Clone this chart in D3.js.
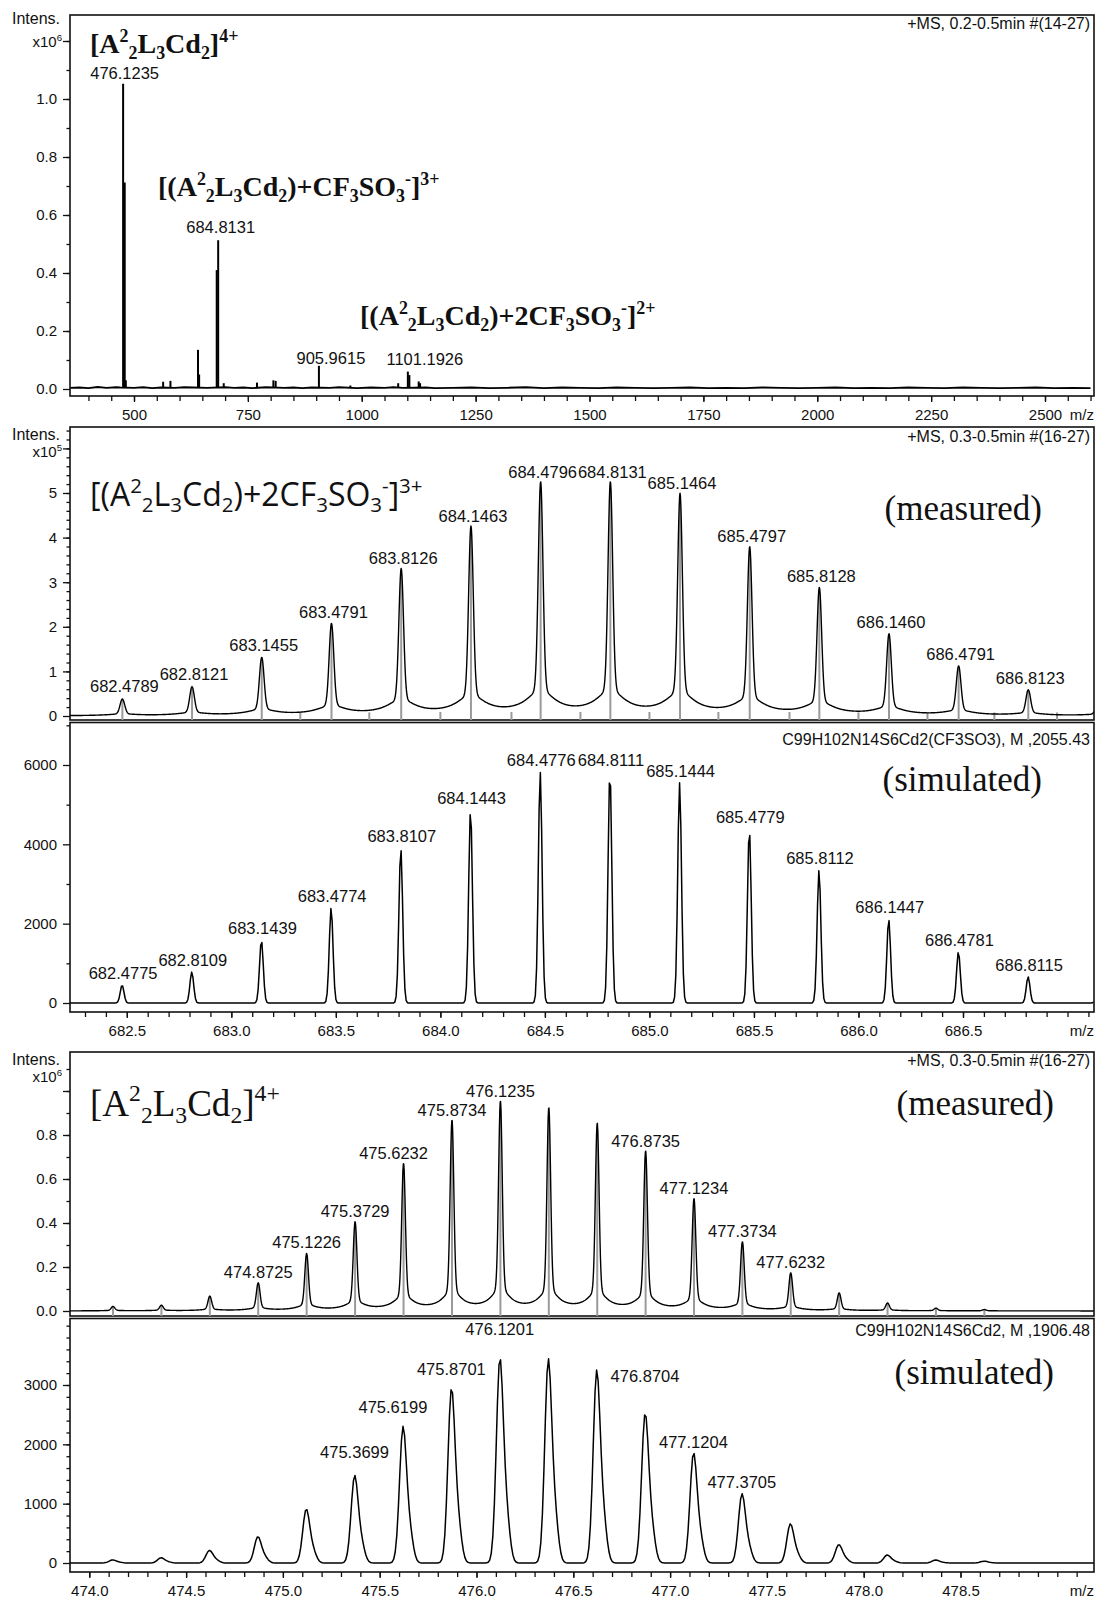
<!DOCTYPE html>
<html>
<head>
<meta charset="utf-8">
<script src="https://cdn.jsdelivr.net/npm/d3@7"></script>
<style>
  html, body { margin: 0; padding: 0; background: #fff; }
  svg { display: block; }
</style>
</head>
<body>
<svg id="chart" width="1098" height="1602"></svg>
<script>
// ===================== data =====================
// Full scan, m/z 360-2600, intensity in units of 10^6
const scanPeakMz  = [476.1, 479.6, 482.0, 564, 580, 640.5, 643.0, 681.6, 684.8, 697, 770, 806, 811, 905.96, 975, 1080, 1101.2, 1104.5, 1125, 1128];
const scanPeakInt = [1.053, 0.712, 0.03, 0.025, 0.028, 0.135, 0.05, 0.41, 0.513, 0.02, 0.022, 0.03, 0.028, 0.08, 0.012, 0.02, 0.06, 0.048, 0.026, 0.02];
const scanNoiseMz  = [360, 380, 400, 420, 440, 460, 470, 500, 520, 540, 560, 590, 610, 630, 660, 700, 720, 740, 760, 790, 830, 850, 870, 890, 930, 950, 990, 1020, 1050, 1070, 1090, 1140, 1160, 1200, 1240, 1280, 1320, 1360, 1400, 1440, 1480, 1520, 1560, 1600, 1640, 1680, 1720, 1760, 1800, 1840, 1880, 1920, 1960, 2000, 2040, 2080, 2120, 2160, 2200, 2240, 2280, 2320, 2360, 2400, 2440, 2480, 2520, 2560, 2600];
const scanNoiseInt = [0.004, 0.005, 0.003, 0.007, 0.004, 0.006, 0.005, 0.004, 0.006, 0.003, 0.005, 0.004, 0.006, 0.005, 0.004, 0.006, 0.004, 0.005, 0.003, 0.006, 0.004, 0.005, 0.003, 0.005, 0.004, 0.006, 0.003, 0.005, 0.004, 0.006, 0.004, 0.005, 0.003, 0.004, 0.005, 0.003, 0.004, 0.006, 0.003, 0.005, 0.004, 0.003, 0.005, 0.004, 0.003, 0.004, 0.005, 0.003, 0.004, 0.003, 0.005, 0.004, 0.003, 0.004, 0.005, 0.003, 0.004, 0.003, 0.005, 0.004, 0.003, 0.005, 0.004, 0.003, 0.004, 0.005, 0.003, 0.004, 0.003];
const scanLabelMz  = [476.1235, 684.8131, 905.9615, 1101.1926];
const scanLabelInt = [1.053, 0.513, 0.08, 0.06];
const scanXTicks = [500, 750, 1000, 1250, 1500, 1750, 2000, 2250, 2500];

// [(A2L3Cd2)+CF3SO3]3+ isotope cluster, measured (x10^5)
const triMz = [682.4789, 682.8121, 683.1455, 683.4791, 683.8126, 684.1463, 684.4796, 684.8131, 685.1464, 685.4797, 685.8128, 686.1460, 686.4791, 686.8123, 687.1455];
const triMeasured = [0.37, 0.64, 1.29, 2.04, 3.26, 4.20, 5.19, 5.19, 4.93, 3.74, 2.84, 1.81, 1.10, 0.57, 0.30];
const triMinorMz  = [683.33, 683.66, 684.00, 684.34, 684.67, 685.00, 685.33, 685.67, 686.00, 686.33, 686.65, 686.95];
const triMinorInt = [0.08, 0.08, 0.09, 0.09, 0.09, 0.09, 0.09, 0.09, 0.08, 0.08, 0.08, 0.08];
// same cluster, simulated for C99H102N14S6Cd2(CF3SO3)
const triSimMz = [682.4775, 682.8109, 683.1439, 683.4774, 683.8107, 684.1443, 684.4776, 684.8111, 685.1444, 685.4779, 685.8112, 686.1447, 686.4781, 686.8115, 687.1449];
const triSimulated = [450, 780, 1580, 2400, 3900, 4870, 5830, 5830, 5550, 4380, 3350, 2110, 1290, 660, 330];
const triXTicks = [682.5, 683.0, 683.5, 684.0, 684.5, 685.0, 685.5, 686.0, 686.5];

// [A2L3Cd2]4+ isotope cluster, measured (x10^6)
const quadMz = [474.1225, 474.3725, 474.6225, 474.8725, 475.1226, 475.3729, 475.6232, 475.8734, 476.1235, 476.3735, 476.6236, 476.8735, 477.1234, 477.3734, 477.6232, 477.8732, 478.1232, 478.3732, 478.6232];
const quadMeasured = [0.02, 0.025, 0.066, 0.125, 0.257, 0.40, 0.664, 0.86, 0.945, 0.915, 0.845, 0.72, 0.505, 0.31, 0.17, 0.08, 0.035, 0.012, 0.006];
const quadMeasuredLabeled = [3, 4, 5, 6, 7, 8, 11, 12, 13, 14];
// same cluster, simulated for C99H102N14S6Cd2
const quadSimMz = [474.1199, 474.3699, 474.6199, 474.8699, 475.1199, 475.3699, 475.6199, 475.8701, 476.1201, 476.3702, 476.6203, 476.8704, 477.1204, 477.3705, 477.6205, 477.8706, 478.1206, 478.3707, 478.6207];
const quadSimulated = [50, 85, 205, 430, 880, 1430, 2230, 2860, 3350, 3330, 3150, 2450, 1800, 1130, 640, 300, 130, 48, 30];
const quadSimLabeled = [5, 6, 7, 8, 11, 12, 13];
const quadXTicks = [474.0, 474.5, 475.0, 475.5, 476.0, 476.5, 477.0, 477.5, 478.0, 478.5];

// ===================== layout =====================
const L = 70, R = 1094;
const NUM_FONT = "'Liberation Sans', Arial, sans-serif";
const SERIF = "'Liberation Serif', 'Times New Roman', serif";
const SANS_BIG = "'Open Sans', 'Noto Sans', sans-serif";
const TICK_PX = 15, LABEL_PX = 16.5, HEAD_PX = 16;

const svg = d3.select("#chart");
svg.append("rect").attr("width", 1098).attr("height", 1602).attr("fill", "#fff");

const xScan = d3.scaleLinear().domain([500, 2500]).range([134, 1045]);
const xTri  = d3.scaleLinear().domain([682.5, 686.5]).range([126.8, 963]);
const xQuad = d3.scaleLinear().domain([474.0, 478.5]).range([89.3, 960.5]);

const panels = {
  scan:   { top: 15,   bottom: 396,  y: d3.scaleLinear().domain([0, 1.0]).range([389, 99]) },
  triM:   { top: 427,  bottom: 720,  y: d3.scaleLinear().domain([0, 5]).range([716, 493]) },
  triS:   { top: 722.5,bottom: 1012, y: d3.scaleLinear().domain([0, 6000]).range([1003, 765]) },
  quadM:  { top: 1052, bottom: 1316, y: d3.scaleLinear().domain([0, 0.8]).range([1311, 1135]) },
  quadS:  { top: 1318.5, bottom: 1572, y: d3.scaleLinear().domain([0, 3000]).range([1563, 1385]) }
};

// ===================== helpers =====================
function frame(p, id) {
  svg.append("clipPath").attr("id", id)
    .append("rect").attr("x", L).attr("y", p.top).attr("width", R - L).attr("height", p.bottom - p.top);
  svg.append("rect").attr("x", L).attr("y", p.top).attr("width", R - L).attr("height", p.bottom - p.top)
    .attr("fill", "none").attr("stroke", "#111").attr("stroke-width", 1.6);
}

function yAxis(p, majors, minors, fmt) {
  const gm = svg.append("g").attr("transform", `translate(${L},0)`);
  gm.call(d3.axisLeft(p.y).tickValues(minors).tickSize(3.5).tickFormat(""));
  gm.select(".domain").remove();
  const g = svg.append("g").attr("transform", `translate(${L},0)`);
  g.call(d3.axisLeft(p.y).tickValues(majors).tickSize(7).tickPadding(6).tickFormat(fmt));
  g.select(".domain").remove();
  g.selectAll("text").attr("font-family", NUM_FONT).attr("font-size", TICK_PX).attr("fill", "#111");
  svg.selectAll(".tick line").attr("stroke", "#111").attr("stroke-width", 1.3);
}

function xAxis(p, x, majors, minorStep, fmt) {
  const lo = x.invert(L), hi = x.invert(R);
  const minors = [];
  for (let k = Math.ceil(lo / minorStep); k * minorStep <= hi; k++) minors.push(+(k * minorStep).toFixed(6));
  const gm = svg.append("g").attr("transform", `translate(0,${p.bottom})`);
  gm.call(d3.axisBottom(x).tickValues(minors).tickSize(5).tickFormat(""));
  gm.select(".domain").remove();
  const g = svg.append("g").attr("transform", `translate(0,${p.bottom})`);
  g.call(d3.axisBottom(x).tickValues(majors).tickSize(6).tickPadding(7).tickFormat(fmt));
  g.select(".domain").remove();
  g.selectAll("text").attr("font-family", NUM_FONT).attr("font-size", TICK_PX).attr("fill", "#111");
  svg.selectAll(".tick line").attr("stroke", "#111").attr("stroke-width", 1.3);
  svg.append("text").attr("x", R).attr("y", p.bottom + 24).attr("text-anchor", "end")
    .attr("font-family", NUM_FONT).attr("font-size", TICK_PX).attr("fill", "#111").text("m/z");
}

function rich(x, y, parts, size, family, weight, anchor) {
  const t = svg.append("text").attr("x", x).attr("y", y)
    .attr("font-family", family).attr("font-size", size)
    .attr("font-weight", weight || "normal").attr("fill", "#111")
    .attr("text-anchor", anchor || "start");
  let shift = 0;
  parts.forEach(([s, k]) => {
    const fs = k === "n" ? size : size * 0.64;
    const target = k === "sup" ? -0.40 * size : k === "sub" ? 0.20 * size : 0;
    t.append("tspan").attr("dy", target - shift).attr("font-size", fs).text(s);
    shift = target;
  });
  return t;
}

function small(x, y, s, anchor, size) {
  return svg.append("text").attr("x", x).attr("y", y).attr("text-anchor", anchor || "middle")
    .attr("font-family", NUM_FONT).attr("font-size", size || LABEL_PX).attr("fill", "#111").text(s);
}

function expLabel(p, exp, dIntens, dExp) {
  small(60, p.top + dIntens, "Intens.", "end", HEAD_PX);
  rich(62, p.top + dExp, [["x10", "n"], [exp, "sup"]], TICK_PX, NUM_FONT, "normal", "end");
}

// measured line shape: narrow core + broad skirt
function measuredProfile(mz, h, lo, hi, step, f, b) {
  const pts = [];
  for (let m = lo; m <= hi + 1e-9; m += step) {
    let v = 0;
    for (let i = 0; i < mz.length; i++) {
      const dx = m - mz[i];
      v += h[i] * (0.9 * Math.exp(-4 * Math.LN2 * dx * dx / (f * f)) + 0.1 / (1 + dx * dx / (b * b)));
    }
    pts.push([m, v]);
  }
  return pts;
}
// simulated line shape: gaussian with an optional shoulder on the high-mass side
function simProfile(mz, h, lo, hi, step, f, sh, shOff) {
  const pts = [];
  for (let m = lo; m <= hi + 1e-9; m += step) {
    let v = 0;
    for (let i = 0; i < mz.length; i++) {
      const dx = m - mz[i], ds = dx - shOff;
      v += h[i] * (Math.exp(-4 * Math.LN2 * dx * dx / (f * f)) + sh * Math.exp(-4 * Math.LN2 * ds * ds / (f * f)));
    }
    pts.push([m, v]);
  }
  return pts;
}

function curve(p, x, pts, clip, width) {
  const line = d3.line().x(d => x(d[0])).y(d => p.y(d[1]));
  svg.append("path").attr("d", line(pts)).attr("clip-path", `url(#${clip})`)
    .attr("fill", "none").attr("stroke", "#000").attr("stroke-width", width).attr("stroke-linejoin", "round");
}

function sticks(p, x, mz, h, clip, color, width, frac) {
  svg.append("g").attr("clip-path", `url(#${clip})`).selectAll("line").data(mz).join("line")
    .attr("x1", d => x(d)).attr("x2", d => x(d))
    .attr("y1", p.bottom).attr("y2", (d, i) => p.y(h[i] * frac))
    .attr("stroke", color).attr("stroke-width", width);
}

function bigWord(x, y, s) {
  svg.append("text").attr("x", x).attr("y", y).attr("text-anchor", "end")
    .attr("font-family", SERIF).attr("font-size", 35).attr("fill", "#111").text(s);
}

// ===================== panel 1: full scan =====================
const P1 = panels.scan;
frame(P1, "c1");
{
  const base = d3.line().x(d => xScan(d[0])).y(d => P1.y(d[1]));
  svg.append("path").attr("d", base(scanNoiseMz.map((m, i) => [m, scanNoiseInt[i]])))
    .attr("clip-path", "url(#c1)").attr("fill", "none").attr("stroke", "#000").attr("stroke-width", 1.9);
  svg.append("g").attr("clip-path", "url(#c1)").selectAll("line").data(scanPeakMz).join("line")
    .attr("x1", d => xScan(d)).attr("x2", d => xScan(d))
    .attr("y1", P1.y(0.004)).attr("y2", (d, i) => P1.y(scanPeakInt[i]))
    .attr("stroke", "#000").attr("stroke-width", 2);
}
yAxis(P1, [0, 0.2, 0.4, 0.6, 0.8, 1.0, 1.2], d3.range(1, 13).map(k => k / 10), v => v > 1.1 ? "" : v.toFixed(1));
expLabel(P1, "6", 9, 32);
xAxis(P1, xScan, scanXTicks, 50, d => d);
small(1090, 29, "+MS, 0.2-0.5min #(14-27)", "end", HEAD_PX);
{
  const dx = [1.5, 2.5, 12, 17], dy = [5, 7, 2, 7];
  scanLabelMz.forEach((m, i) => small(xScan(m) + dx[i], P1.y(scanLabelInt[i]) - dy[i], m.toFixed(4)));
}
rich(90, 53, [["[A", "n"], ["2", "sup"], ["2", "sub"], ["L", "n"], ["3", "sub"], ["Cd", "n"], ["2", "sub"], ["]", "n"], ["4+", "sup"]], 28, SERIF, "bold");
rich(158, 196, [["[(A", "n"], ["2", "sup"], ["2", "sub"], ["L", "n"], ["3", "sub"], ["Cd", "n"], ["2", "sub"], [")+CF", "n"], ["3", "sub"], ["SO", "n"], ["3", "sub"], ["-", "sup"], ["]", "n"], ["3+", "sup"]], 28, SERIF, "bold");
rich(360, 325, [["[(A", "n"], ["2", "sup"], ["2", "sub"], ["L", "n"], ["3", "sub"], ["Cd", "n"], ["2", "sub"], [")+2CF", "n"], ["3", "sub"], ["SO", "n"], ["3", "sub"], ["-", "sup"], ["]", "n"], ["2+", "sup"]], 28, SERIF, "bold");

// ===================== panel 2: 3+ measured =====================
const P2 = panels.triM;
frame(P2, "c2");
sticks(P2, xTri, triMz, triMeasured, "c2", "#9a9a9a", 2, 0.97);
sticks(P2, xTri, triMinorMz, triMinorInt, "c2", "#9a9a9a", 2, 1);
curve(P2, xTri, measuredProfile(triMz, triMeasured, xTri.invert(L), xTri.invert(R), 0.002, 0.026, 0.08), "c2", 1.4);
yAxis(P2, [0, 1, 2, 3, 4, 5, 6], d3.range(1, 33).map(k => k / 5), v => v > 5.5 ? "" : v);
expLabel(P2, "5", 13, 30);
small(1090, 442, "+MS, 0.3-0.5min #(16-27)", "end", HEAD_PX);
triMz.slice(0, 14).forEach((m, i) => small(xTri(m) + 2, P2.y(triMeasured[i]) - 7, m.toFixed(4)));
rich(90, 506, [["[(A", "n"], ["2", "sup"], ["2", "sub"], ["L", "n"], ["3", "sub"], ["Cd", "n"], ["2", "sub"], [")+2CF", "n"], ["3", "sub"], ["SO", "n"], ["3", "sub"], ["-", "sup"], ["]", "n"], ["3+", "sup"]], 32, SANS_BIG, "normal");
bigWord(1042, 520, "(measured)");

// ===================== panel 3: 3+ simulated =====================
const P3 = panels.triS;
frame(P3, "c3");
curve(P3, xTri, simProfile(triSimMz, triSimulated, xTri.invert(L), xTri.invert(R), 0.006, 0.021, 0, 0), "c3", 1.5);
yAxis(P3, [0, 2000, 4000, 6000], [1000, 3000, 5000, 7000], d => d);
xAxis(P3, xTri, triXTicks, 0.1, d => d.toFixed(1));
small(1090, 745, "C99H102N14S6Cd2(CF3SO3), M ,2055.43", "end", HEAD_PX);
triSimMz.slice(0, 14).forEach((m, i) => small(xTri(m) + 1, P3.y(triSimulated[i]) - 6, m.toFixed(4)));
bigWord(1042, 791, "(simulated)");

// ===================== panel 4: 4+ measured =====================
const P4 = panels.quadM;
frame(P4, "c4");
sticks(P4, xQuad, quadMz, quadMeasured, "c4", "#9a9a9a", 2, 0.97);
curve(P4, xQuad, measuredProfile(quadMz, quadMeasured, xQuad.invert(L), xQuad.invert(R), 0.002, 0.022, 0.055), "c4", 1.4);
yAxis(P4, [0, 0.2, 0.4, 0.6, 0.8, 1.0], d3.range(1, 12).map(k => k / 10), v => v > 0.9 ? "" : v.toFixed(1));
expLabel(P4, "6", 13, 30);
small(1090, 1066, "+MS, 0.3-0.5min #(16-27)", "end", HEAD_PX);
{
  const dxs = { 6: -10 };
  quadMeasuredLabeled.forEach(i => small(xQuad(quadMz[i]) + (dxs[i] || 0), P4.y(quadMeasured[i]) - 6, quadMz[i].toFixed(4)));
}
rich(90, 1116, [["[A", "n"], ["2", "sup"], ["2", "sub"], ["L", "n"], ["3", "sub"], ["Cd", "n"], ["2", "sub"], ["]", "n"], ["4+", "sup"]], 37, SERIF, "normal");
bigWord(1054, 1115, "(measured)");

// ===================== panel 5: 4+ simulated =====================
const P5 = panels.quadS;
frame(P5, "c5");
curve(P5, xQuad, simProfile(quadSimMz, quadSimulated, xQuad.invert(L), xQuad.invert(R), 0.008, 0.042, 0.22, 0.035), "c5", 1.5);
yAxis(P5, [0, 1000, 2000, 3000], d3.range(1, 21).map(k => k * 200), d => d);
xAxis(P5, xQuad, quadXTicks, 0.1, d => d.toFixed(1));
small(1090, 1336, "C99H102N14S6Cd2, M ,1906.48", "end", HEAD_PX);
{
  const lift = { 5: 20, 6: 18, 7: 18, 8: 29, 11: 36, 12: 8, 13: 8 };
  const dxs = { 6: -10 };
  quadSimLabeled.forEach(i => small(xQuad(quadSimMz[i]) + (dxs[i] || 0), P5.y(quadSimulated[i]) - lift[i], quadSimMz[i].toFixed(4)));
}
bigWord(1054, 1384, "(simulated)");
</script>
</body>
</html>
